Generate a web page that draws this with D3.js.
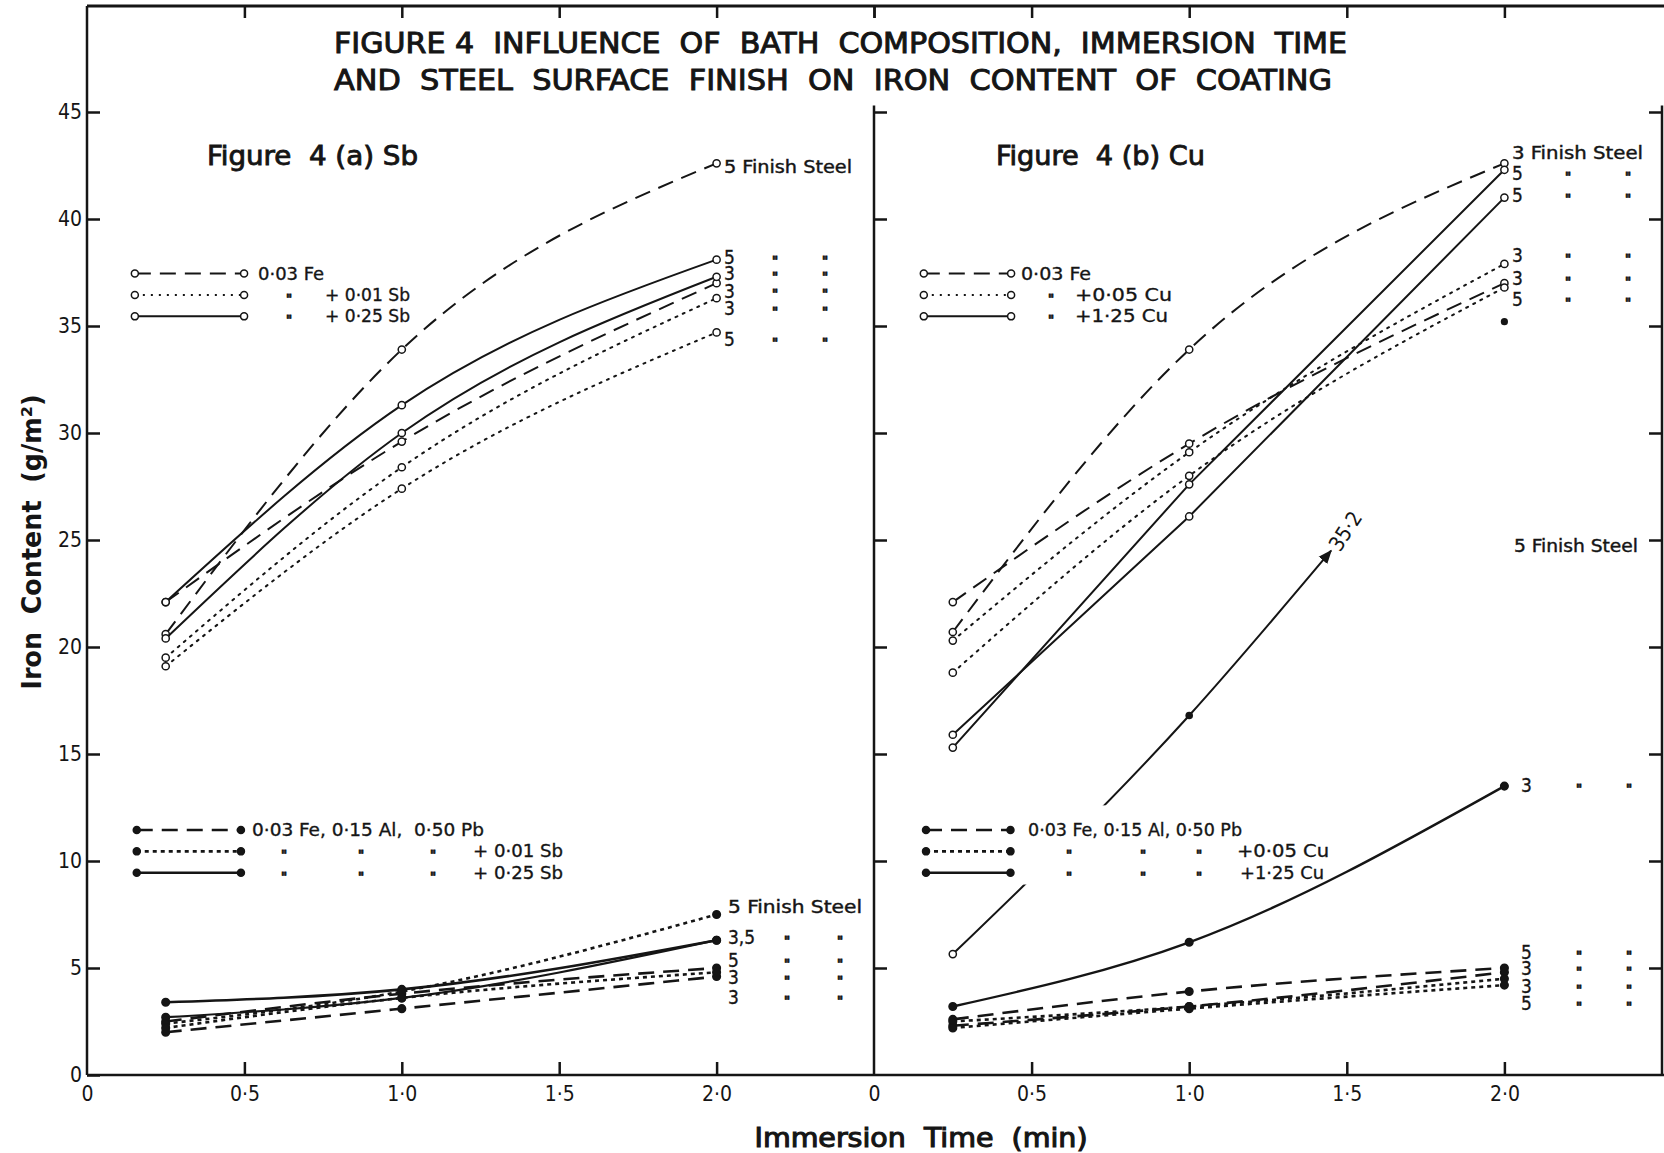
<!DOCTYPE html>
<html>
<head>
<meta charset="utf-8">
<script src="https://cdn.jsdelivr.net/npm/d3@7"></script>
<style>
  body { margin: 0; background: #fff; }
  svg { display: block; }
  text { font-family: "DejaVu Sans Condensed", "Liberation Sans Narrow", "DejaVu Sans", sans-serif; font-stretch: condensed; fill: #151515; white-space: pre; }
</style>
</head>
<body>
<svg id="chart" width="1664" height="1153"></svg>
<script>
// immersion times (min) at which coatings were measured
var times = [0.25, 1.0, 2.0];

// Figure 4(a) Sb -- zinc + 0.03 Fe baths (open circles)
var sbFe5     = [20.6, 33.9, 42.6];
var sbFe3     = [22.1, 29.6, 37.0];
var sb025Fin5 = [22.1, 31.3, 38.1];
var sb025Fin3 = [20.4, 30.0, 37.3];
var sb001Fin3 = [19.5, 28.4, 36.3];
var sb001Fin5 = [19.1, 27.4, 34.7];
// Figure 4(a) Sb -- 0.03 Fe, 0.15 Al, 0.50 Pb baths (filled dots)
var sbAlFe5     = [2.5, 3.8, 5.0];
var sbAlFe3     = [2.0, 3.1, 4.6];
var sbAl025Fin3 = [3.4, 4.0, 6.3];
var sbAl025Fin5 = [2.7, 3.6, 6.3];
var sbAl001Fin5 = [2.4, 3.9, 7.5];
var sbAl001Fin3 = [2.2, 3.6, 4.8];

// Figure 4(b) Cu -- zinc + 0.03 Fe baths
var cuFe5     = [20.7, 33.9, 42.6];
var cuFe3     = [22.1, 29.5, 37.0];
var cu005Fin3 = [20.3, 29.1, 37.9];
var cu005Fin5 = [18.8, 28.0, 36.8];
var cu125Fin3 = [15.3, 27.6, 42.3];
var cu125Fin5 = [15.9, 26.1, 41.0];
// Figure 4(b) Cu -- 0.03 Fe, 0.15 Al, 0.50 Pb baths
var cuAlFe5     = [2.6, 3.9, 5.0];
var cuAlFe3     = [2.3, 3.2, 4.8];
var cuAl005Fin3 = [2.5, 3.2, 4.5];
var cuAl005Fin5 = [2.2, 3.1, 4.2];
var cuAl125Fin3 = [3.2, 6.2, 13.5];
var cuAl125Fin5 = [5.65, 16.8, 35.2];   // runs off the plot, value written by the arrow
var cuArrowTip  = [1.45, 24.5];

var yTicks = [0, 5, 10, 15, 20, 25, 30, 35, 40, 45];
var xTicks = [0, 0.5, 1.0, 1.5, 2.0];

var ink = "#151515";
var svg = d3.select("#chart");

var y  = d3.scaleLinear().domain([0, 50]).range([1075, 5]);
var xA = d3.scaleLinear().domain([0, 2.5]).range([87, 874]);
var xB = d3.scaleLinear().domain([0, 2.5]).range([874, 1662]);

var dashes = { dash: "16,9", dot: "2,6", solid: null, sdot: "4,4" };

function midDot(d) { return d === 0 ? "0" : d.toFixed(1).replace(".", "\u00B7"); }

// ---------- frame and axes ----------
var frame = svg.append("g").attr("stroke", ink).attr("fill", "none");
frame.append("line").attr("x1", 87).attr("x2", 1664).attr("y1", 6).attr("y2", 6).attr("stroke-width", 3);
frame.append("line").attr("x1", 874).attr("x2", 874).attr("y1", y(45.3)).attr("y2", y(0)).attr("stroke-width", 2.5);
frame.append("line").attr("x1", 1662).attr("x2", 1662).attr("y1", y(45.3)).attr("y2", y(0)).attr("stroke-width", 2.5);

function styleAxis(g) {
  g.selectAll(".domain").attr("stroke", ink).attr("stroke-width", 2.5);
  g.selectAll(".tick line").attr("stroke", ink).attr("stroke-width", 2.5);
  g.selectAll(".tick text").attr("fill", ink).attr("font-size", 21)
    .attr("font-family", "DejaVu Sans Condensed, DejaVu Sans, sans-serif");
}

svg.append("g").attr("transform", "translate(87,0)")
  .call(d3.axisLeft(y).tickValues(yTicks).tickSizeInner(-13).tickSizeOuter(0).tickPadding(5))
  .call(styleAxis)
  .call(g => g.select(".domain").attr("d", "M0," + y(0) + "V6"));

svg.append("g").attr("transform", "translate(874,0)")
  .call(d3.axisRight(y).tickValues(yTicks.slice(1)).tickSize(13).tickFormat(""))
  .call(styleAxis).call(g => g.select(".domain").remove());

svg.append("g").attr("transform", "translate(1662,0)")
  .call(d3.axisLeft(y).tickValues(yTicks.slice(1)).tickSize(13).tickFormat(""))
  .call(styleAxis).call(g => g.select(".domain").remove());

[xA, xB].forEach(function (x, i) {
  svg.append("g").attr("transform", "translate(0," + y(0) + ")")
    .call(d3.axisBottom(x).tickValues(xTicks).tickSizeInner(-13).tickSizeOuter(0).tickPadding(11).tickFormat(midDot))
    .call(styleAxis)
    .call(g => g.select(".domain").attr("d", "M" + x.range()[0] + ",0H" + (i ? 1664 : x.range()[1])))
    .call(g => g.selectAll(".tick line").filter(d => d === 0).remove());
  svg.append("g").attr("transform", "translate(0,6)")
    .call(d3.axisTop(x).tickValues(i ? [0, 0.5, 1.0, 1.5, 2.0] : [0.5, 1.0, 1.5, 2.0, 2.5]).tickSizeInner(-12).tickSizeOuter(0).tickFormat(""))
    .call(styleAxis).call(g => g.select(".domain").remove());
});

// ---------- titles ----------
function label(x, yy, txt, opt) {
  opt = opt || {};
  var t = svg.append("text").attr("x", x).attr("y", yy).text(txt)
    .attr("font-size", opt.size || 17)
    .attr("font-weight", opt.weight || "normal");
  if (opt.len) t.attr("textLength", opt.len).attr("lengthAdjust", "spacingAndGlyphs");
  if (opt.anchor) t.attr("text-anchor", opt.anchor);
  if (opt.dy) t.attr("dy", opt.dy);
  if (opt.thick) t.attr("stroke", ink).attr("stroke-width", opt.thick);
  return t;
}

label(334, 53, "FIGURE 4  INFLUENCE  OF  BATH  COMPOSITION,  IMMERSION  TIME", { size: 29, len: 1013, thick: 0.9 });
label(334, 90, "AND  STEEL  SURFACE  FINISH  ON  IRON  CONTENT  OF  COATING", { size: 29, len: 998, thick: 0.9 });
label(207, 165, "Figure  4 (a) Sb", { size: 26, len: 211, thick: 0.8 });
label(996, 165, "Figure  4 (b) Cu", { size: 26, len: 209, thick: 0.8 });
label(921, 1147, "Immersion  Time  (min)", { size: 26, len: 333, anchor: "middle", thick: 1 });
svg.append("text").attr("transform", "translate(41,542) rotate(-90)").attr("text-anchor", "middle")
  .attr("font-size", 26).attr("font-weight", "bold").attr("textLength", 295).attr("lengthAdjust", "spacingAndGlyphs")
  .text("Iron  Content  (g/m\u00B2)");

// ---------- series ----------
var seriesA = [
  { v: sbFe5, style: "dash", dot: "open" },
  { v: sbFe3, style: "dash", dot: "open" },
  { v: sb025Fin5, style: "solid", dot: "open" },
  { v: sb025Fin3, style: "solid", dot: "open" },
  { v: sb001Fin3, style: "dot", dot: "open" },
  { v: sb001Fin5, style: "dot", dot: "open" },
  { v: sbAlFe5, style: "dash", dot: "fill", w: 2.6 },
  { v: sbAlFe3, style: "dash", dot: "fill", w: 2.6 },
  { v: sbAl025Fin3, style: "solid", dot: "fill", w: 2.6 },
  { v: sbAl025Fin5, style: "solid", dot: "fill", w: 2.2 },
  { v: sbAl001Fin5, style: "sdot", dot: "fill", w: 2.6 },
  { v: sbAl001Fin3, style: "sdot", dot: "fill", w: 2.6 }
];
var seriesB = [
  { v: cuFe5, style: "dash", dot: "open" },
  { v: cuFe3, style: "dash", dot: "open" },
  { v: cu005Fin3, style: "dot", dot: "open" },
  { v: cu005Fin5, style: "dot", dot: "open" },
  { v: cu125Fin3, style: "solid", dot: "open", curve: d3.curveLinear },
  { v: cu125Fin5, style: "solid", dot: "open", curve: d3.curveLinear },
  { v: cuAlFe5, style: "dash", dot: "fill", w: 2.6 },
  { v: cuAlFe3, style: "dash", dot: "fill", w: 2.6 },
  { v: cuAl005Fin3, style: "sdot", dot: "fill", w: 2.6 },
  { v: cuAl005Fin5, style: "sdot", dot: "fill", w: 2.6 },
  { v: cuAl125Fin3, style: "solid", dot: "fill", w: 2.4 }
];

svg.append("defs").append("marker").attr("id", "arrow")
  .attr("viewBox", "0 0 10 10").attr("refX", 9).attr("refY", 5)
  .attr("markerWidth", 7).attr("markerHeight", 7).attr("orient", "auto")
  .append("path").attr("d", "M0,1L10,5L0,9z").attr("fill", ink);

var plot = svg.append("g");

function drawSeries(x, s) {
  var pts = times.map(function (t, i) { return [t, s.v[i]]; });
  var line = d3.line().x(d => x(d[0])).y(d => y(d[1])).curve(s.curve || d3.curveMonotoneX);
  plot.append("path").attr("d", line(pts)).attr("fill", "none").attr("stroke", ink)
    .attr("stroke-width", s.w || 2).attr("stroke-dasharray", dashes[s.style])
    .attr("stroke-linecap", s.style === "dot" ? "round" : "butt");
  plot.append("g").selectAll("circle").data(pts).join("circle")
    .attr("cx", d => x(d[0])).attr("cy", d => y(d[1]))
    .attr("r", s.dot === "open" ? 3.6 : 3.8)
    .attr("fill", s.dot === "open" ? "#fff" : ink)
    .attr("stroke", ink).attr("stroke-width", 1.5);
}
seriesA.forEach(s => drawSeries(xA, s));
seriesB.forEach(s => drawSeries(xB, s));

// 1.25 Cu, finish 5 with Al/Pb: line leaves the plot toward 35.2
var runaway = [[times[0], cuAl125Fin5[0]], [times[1], cuAl125Fin5[1]], cuArrowTip];
plot.append("path")
  .attr("d", d3.line().x(d => xB(d[0])).y(d => y(d[1])).curve(d3.curveMonotoneX)(runaway))
  .attr("fill", "none").attr("stroke", ink).attr("stroke-width", 2).attr("marker-end", "url(#arrow)");
plot.append("circle").attr("cx", xB(times[0])).attr("cy", y(cuAl125Fin5[0])).attr("r", 3.6)
  .attr("fill", "#fff").attr("stroke", ink).attr("stroke-width", 1.5);
plot.append("circle").attr("cx", xB(times[1])).attr("cy", y(cuAl125Fin5[1])).attr("r", 3.8).attr("fill", ink);
plot.append("circle").attr("cx", xB(times[2])).attr("cy", y(cuAl125Fin5[2])).attr("r", 3.6).attr("fill", ink);
svg.append("text").attr("transform", "translate(" + (xB(cuArrowTip[0]) + 9) + "," + (y(cuArrowTip[1]) + 2) + ") rotate(-57)")
  .attr("font-size", 21).text("35\u00B72");

// ---------- legends ----------
svg.append("rect").attr("x", 1018).attr("y", y(12.6)).attr("width", 100).attr("height", y(8.9) - y(12.6)).attr("fill", "#fff");

function legendRows(x, t0, t1, rows, dot) {
  rows.forEach(function (r) {
    var w = dot === "open" ? 2 : 2.6;
    svg.append("line").attr("x1", x(t0)).attr("x2", x(t1)).attr("y1", y(r.v)).attr("y2", y(r.v))
      .attr("stroke", ink).attr("stroke-width", w).attr("stroke-dasharray", dashes[r.style]);
    [t0, t1].forEach(function (t) {
      svg.append("circle").attr("cx", x(t)).attr("cy", y(r.v)).attr("r", 3.5)
        .attr("fill", dot === "open" ? "#fff" : ink)
        .attr("stroke", ink).attr("stroke-width", 1.5);
    });
  });
}
legendRows(xA, 0.152, 0.499, [{ v: 37.45, style: "dash" }, { v: 36.45, style: "dot" }, { v: 35.45, style: "solid" }], "open");
legendRows(xB, 0.158, 0.435, [{ v: 37.45, style: "dash" }, { v: 36.45, style: "dot" }, { v: 35.45, style: "solid" }], "open");
legendRows(xA, 0.158, 0.489, [{ v: 11.45, style: "dash" }, { v: 10.45, style: "sdot" }, { v: 9.45, style: "solid" }], "fill");
legendRows(xB, 0.165, 0.433, [{ v: 11.45, style: "dash" }, { v: 10.45, style: "sdot" }, { v: 9.45, style: "solid" }], "fill");

// ditto marks under the repeated words
var ditto = "\"";
function dittoMark(x, v) {
  label(x, y(v), ditto, { size: 13, dy: "0.6em", weight: "bold", thick: 0.8 });
}
function row(v, items) {
  items.forEach(function (it) {
    if (it[1] === ditto) dittoMark(it[0], v);
    else label(it[0], y(v), it[1], { size: 17, len: it[2], dy: "0.36em", thick: 0.3 });
  });
}
row(37.45, [[258, "0\u00B703 Fe", 66]]);
row(36.45, [[286, ditto], [325, "+ 0\u00B701 Sb", 85]]);
row(35.45, [[286, ditto], [325, "+ 0\u00B725 Sb", 85]]);
row(11.45, [[252, "0\u00B703 Fe, 0\u00B715 Al,  0\u00B750 Pb", 232]]);
row(10.45, [[281, ditto], [358, ditto], [430, ditto], [473, "+ 0\u00B701 Sb", 90]]);
row(9.45, [[281, ditto], [358, ditto], [430, ditto], [473, "+ 0\u00B725 Sb", 90]]);
row(37.45, [[1021, "0\u00B703 Fe", 70]]);
row(36.45, [[1048, ditto], [1075, "+0\u00B705 Cu", 97]]);
row(35.45, [[1048, ditto], [1075, "+1\u00B725 Cu", 93]]);
row(11.45, [[1028, "0\u00B703 Fe, 0\u00B715 Al, 0\u00B750 Pb", 214]]);
row(10.45, [[1066, ditto], [1140, ditto], [1196, ditto], [1237, "+0\u00B705 Cu", 92]]);
row(9.45, [[1066, ditto], [1140, ditto], [1196, ditto], [1240, "+1\u00B725 Cu", 84]]);

// ---------- end-of-line labels ----------
function endLabels(x0, d1, d2, rows) {
  rows.forEach(function (r) {
    if (r[1].indexOf("Finish") >= 0) {
      label(x0, y(r[0]), r[1], { size: 18, dy: "0.36em", len: r[2], thick: 0.4 });
    } else {
      label(x0, y(r[0]), r[1], { size: 19, dy: "0.36em", thick: 0.3 });
      dittoMark(d1, r[0]);
      dittoMark(d2, r[0]);
    }
  });
}
endLabels(724, 772, 822, [[42.45, "5 Finish Steel", 128], [38.2, "5"], [37.45, "3"], [36.65, "3"], [35.85, "3"], [34.4, "5"]]);
endLabels(728, 784, 837, [[7.85, "5 Finish Steel", 134], [6.45, "3,5"], [5.35, "5"], [4.55, "3"], [3.65, "3"]]);
endLabels(1512, 1565, 1625, [[43.1, "3 Finish Steel", 131], [42.15, "5"], [41.1, "5"], [38.3, "3"], [37.25, "3"], [36.25, "5"]]);
endLabels(1521, 1576, 1626, [[13.55, "3"], [5.75, "5"], [5.0, "3"], [4.15, "3"], [3.35, "5"]]);
label(1514, y(24.75), "5 Finish Steel", { size: 18, dy: "0.36em", len: 124, thick: 0.4 });
</script>
</body>
</html>
